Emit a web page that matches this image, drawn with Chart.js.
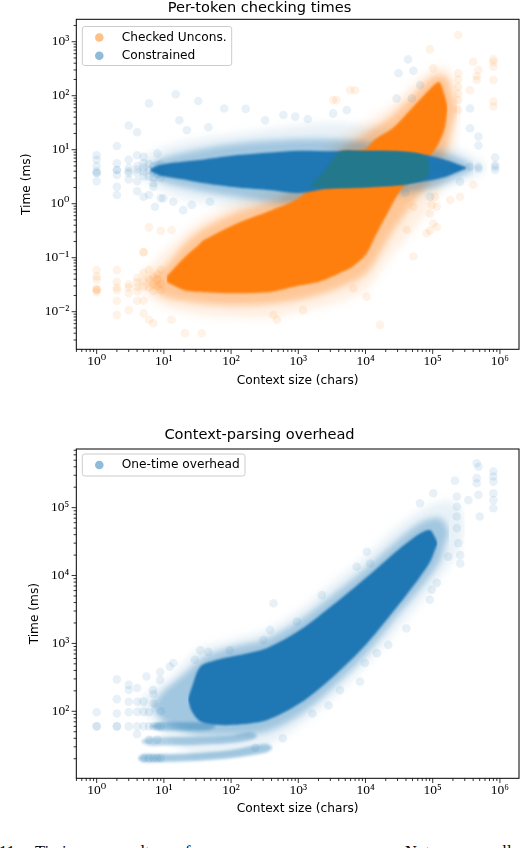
<!DOCTYPE html>
<html>
<head>
<meta charset="utf-8">
<script src="https://cdn.jsdelivr.net/npm/chart.js@4.4.1/dist/chart.umd.min.js"></script>
<style>
  html, body { margin: 0; padding: 0; background: #fff; }
  #page { position: relative; width: 528px; height: 848px; overflow: hidden; }
  #top-wrap { position: absolute; left: 0; top: 0; width: 528px; height: 392px; }
  #bot-wrap { position: absolute; left: 0; top: 420px; width: 528px; height: 400px; }
  #caption { position: absolute; left: 0; top: 842px; width: 528px; height: 20px; font: 16.5px/20px "Liberation Serif", serif; color: #000; opacity: 0.99; }
  #caption span { position: absolute; top: 0; white-space: nowrap; }
</style>
</head>
<body>
<div id="page">
  <div id="top-wrap"><canvas id="top-chart" width="528" height="392"></canvas></div>
  <div id="bot-wrap"><canvas id="bot-chart" width="528" height="400"></canvas></div>
  <div id="caption"><span style="left:-1px">11:</span><span style="left:35px">Timing</span><span style="left:113px">results</span><span style="left:185px">for</span><span style="left:232px">our</span><span style="left:290px">corpus.</span><span style="left:405px">Note:</span><span style="left:495px">all</span></div>
</div>
<script>
// ---- Per-token checking times (top) ----
// envelopes of the dense point clouds (x: chars, y: ms)
const uncX       = [11, 20, 32, 40, 125, 400, 1000, 2000, 3200, 4200, 6300, 10000, 14000, 23000, 32000, 50000, 80000, 105000, 126000, 151000, 166000];
const uncLo      = [0.0355, 0.0251, 0.0234, 0.0229, 0.0219, 0.0234, 0.0302, 0.0355, 0.0447, 0.0525, 0.0676, 0.112, 0.251, 0.794, 1.66, 3.16, 6.31, 9.55, 14.1, 25.1, 56];
const uncHi      = [0.0447, 0.1, 0.166, 0.214, 0.437, 0.759, 1.26, 2.82, 5.0, 9.1, 9.5, 10.5, 15.8, 22.9, 33.1, 60.3, 112, 158, 178, 100, 63];
const uncHazeX   = [5.5, 7, 10, 20, 40, 125, 400, 1000, 3200, 10000, 23000, 50000, 100000, 158000, 200000, 230000];
const uncHazeLo  = [0.036, 0.0282, 0.019, 0.0158, 0.0141, 0.0132, 0.0141, 0.0166, 0.0251, 0.05, 0.251, 1.0, 3.16, 10, 31.6, 56];
const uncHazeHi  = [0.036, 0.0447, 0.063, 0.178, 0.355, 0.708, 1.12, 2.0, 7.9, 20, 39.8, 100, 224, 224, 100, 56];
const uncFaintX  = [4, 5, 10, 32, 125, 400, 1000, 3200, 10000, 23000, 50000, 100000, 158000, 224000, 260000];
const uncFaintLo = [0.034, 0.0224, 0.0126, 0.0089, 0.0079, 0.0079, 0.01, 0.0141, 0.0251, 0.1, 0.316, 1.0, 3.16, 15.8, 50];
const uncFaintHi = [0.034, 0.05, 0.126, 0.447, 1.12, 1.78, 3.16, 12.6, 31.6, 63, 158, 316, 316, 158, 50];

const conX       = [6.3, 9, 20, 40, 125, 400, 1000, 3200, 10000, 32000, 80000, 158000, 251000, 316000];
const conLo      = [3.98, 3.31, 2.82, 2.4, 2.0, 1.78, 1.58, 1.95, 2.04, 2.24, 2.63, 3.16, 3.98, 4.47];
const conHi      = [4.37, 5.25, 6.03, 6.61, 7.94, 8.91, 9.55, 9.33, 9.33, 9.12, 7.94, 6.46, 5.25, 4.68];
const conHazeX   = [6, 8, 20, 125, 1000, 3200, 10000, 32000, 100000, 251000, 400000];
const conHazeLo  = [4.2, 2.82, 2.0, 1.32, 1.0, 1.26, 1.41, 1.58, 2.0, 3.16, 4.17];
const conHazeHi  = [4.2, 6.31, 8.91, 13.2, 15.8, 15.8, 14.1, 12.0, 10, 7.08, 5.01];
const conFaintX  = [4.2, 5.6, 20, 125, 1000, 4000, 16000, 63000, 200000, 500000, 650000];
const conFaintLo = [4.4, 2.51, 1.26, 0.891, 0.794, 1.0, 1.12, 1.41, 2.24, 3.55, 4.7];
const conFaintHi = [4.4, 7.94, 14.1, 20, 28.2, 31.6, 25.1, 20, 11.2, 6.31, 4.7];

// where both clouds are dense the colours mix
const mixX  = [1500, 2500, 4200, 10000, 32000, 63000, 83000, 91000];
const mixLo = [2.04, 1.95, 1.95, 2.04, 2.24, 2.63, 3.16, 4.47];
const mixHi = [2.14, 4.17, 9.12, 9.33, 9.12, 8.32, 6.92, 5.01];

// single faint markers (columns at small sizes + outliers)
const uncDotX = [1, 1, 1, 1, 1, 1, 1, 2, 2, 2, 2, 2, 2, 3, 3, 3, 3, 4, 4, 4, 4, 4, 5, 5, 5, 5, 5, 5, 5, 6, 6, 6, 6, 6, 7, 7, 7, 7, 8, 8, 8, 9, 9, 9, 9,
  13, 13, 20.6, 36.5, 425, 480, 1180, 6600, 10400, 16400, 51500, 81000, 102000, 91000, 51500, 41000, 108000, 97000, 256000, 182000, 115000, 115000, 91000, 400000,
  3300, 5900, 7000, 3700, 240000, 91000, 102000, 400000, 800000, 800000, 478000, 452000, 240000, 240000, 240000, 240000, 240000, 240000, 359000, 800000, 800000, 800000, 452000, 800000];
const uncDotY = [0.059, 0.045, 0.039, 0.026, 0.026, 0.025, 0.023, 0.059, 0.036, 0.025, 0.016, 0.0087, 0.028, 0.032, 0.022, 0.0107, 0.028, 0.042, 0.029, 0.016, 0.035, 0.024,
  0.052, 0.029, 0.0093, 0.016, 0.126, 0.126, 0.037, 0.365, 0.04, 0.028, 0.0071, 0.06, 0.032, 0.045, 0.0061, 0.024, 0.03, 0.04, 0.05, 0.316, 0.033, 0.025, 0.06,
  0.326, 0.0071, 0.004, 0.004, 0.0087, 0.0071, 0.0107, 0.027, 0.019, 0.0057, 0.105, 0.283, 0.43, 0.66, 0.88, 0.33, 1.35, 0.95, 1.35, 1.17, 0.88, 0.37, 0.32, 2.24,
  83, 126, 126, 83, 1330, 720, 320, 425, 470, 345, 300, 195, 260, 147, 83, 54, 200, 110, 126, 195, 78, 63, 230, 420];

const conDotX = [1, 1, 1, 1, 1, 1, 1, 2, 2, 2, 2, 2, 2, 2, 3, 3, 3, 3, 3, 3, 4, 4, 4, 4, 4, 4, 4, 5, 5, 5, 5, 5, 5, 6, 6, 6, 6, 6, 7, 7, 7, 7, 7, 8, 8, 8, 8, 9, 9, 9, 9,
  15, 32.5, 17, 22, 46, 79, 165, 320, 600, 900, 1380, 3300, 5250, 43000, 51500, 31000, 65000, 49000, 29000,
  359000, 480000, 480000, 850000, 850000, 850000, 850000, 255000, 359000, 480000, 480000, 203000, 203000, 144000, 108000, 91000, 39000, 39000, 359000,
  13.8, 19.4, 26, 48.5, 9.8, 7.4];
const conDotY = [7.9, 6.5, 4.0, 3.7, 3.7, 2.6, 5.0, 11.7, 5.6, 4.2, 4.2, 3.4, 2.05, 1.45, 28, 6.5, 4.6, 3.7, 2.8, 4.0, 21, 7.9, 5.0, 3.7, 2.6, 1.7, 4.3,
  5.6, 4.6, 4.0, 3.2, 1.35, 7.4, 72, 5.5, 4.2, 3.2, 1.45, 5.0, 4.0, 3.0, 2.4, 2.07, 5.2, 4.3, 3.5, 8.5, 5.5, 4.0, 3.0, 1.26,
  106, 80, 35, 23, 26, 58, 57, 35, 44, 41, 37, 47, 54, 470, 290, 260, 158, 89, 89,
  25, 17.5, 12, 7.2, 4.2, 5.2, 4.8, 2.55, 4.85, 4.85, 4.4, 4.5, 4.8, 4.5, 4.85, 1.35, 2.4, 1.6, 58,
  1.09, 0.76, 0.95, 1.09, 1.26, 0.88];

// ---- Context-parsing overhead (bottom) ----
const parseX       = [23, 26, 35, 63, 107, 339, 1070, 3300, 10500, 32400, 64600, 91000, 110000, 118000];
const parseLo      = [145, 100, 70.8, 63.1, 63.1, 74.1, 132, 324, 1000, 3890, 9550, 15800, 25100, 30000];
const parseHi      = [155, 224, 457, 575, 646, 851, 1585, 3715, 9550, 25100, 41700, 46800, 35500, 30000];
const parseHazeX   = [6.5, 10, 20, 40, 107, 339, 1070, 3300, 10500, 32400, 70800, 126000, 158000, 175000];
const parseHazeLo  = [115, 70.8, 50.1, 44.7, 44.7, 50.1, 89.1, 224, 708, 2818, 7080, 15800, 31600, 42000];
const parseHazeHi  = [115, 200, 355, 631, 891, 1175, 2239, 5248, 13200, 35500, 63100, 70800, 56200, 42000];
const parseFaintX  = [4, 6.3, 12.6, 32, 100, 339, 1070, 3300, 10500, 32400, 79400, 158000, 251000, 300000];
const parseFaintLo = [125, 79.4, 35.5, 22.4, 25.1, 31.6, 63.1, 158, 501, 1778, 5012, 12590, 25100, 50000];
const parseFaintHi = [125, 200, 316, 794, 1122, 1585, 3162, 7943, 19950, 56200, 100000, 125900, 100000, 50000];
// the three horizontal streaks of markers at small contexts
const streakAX  = [6, 8, 16, 32, 50, 60];
const streakALo = [60, 53, 52, 52, 54, 60];
const streakAHi = [60, 68, 69, 69, 67, 60];
const streakBX  = [4.5, 6, 10, 30, 100, 200, 250];
const streakBLo = [36, 31.5, 31.5, 32, 34, 38, 43];
const streakBHi = [36, 41, 41.5, 42, 44, 49, 43];
const streakCX  = [4, 5, 8, 16, 40, 100, 340, 420];
const streakCLo = [20.4, 17.9, 17.9, 18.2, 19, 20.5, 25, 29];
const streakCHi = [20.4, 23.3, 23.3, 23.6, 24.8, 27, 33, 29];

const parseDotX = [1, 1, 1, 2, 2, 2, 2, 2, 3, 3, 3, 3, 3, 4, 4, 4, 4, 4, 5, 5, 5, 5, 6, 6, 6, 6, 7, 7, 7, 7, 8, 8, 8, 9, 9, 9,
  5.5, 8.8, 12.3, 13.8, 8.8, 6.9, 34.7, 45.7, 95.5, 28.8,
  452000, 480000, 800000, 800000, 800000, 452000, 452000, 214000, 800000, 800000, 800000, 480000, 501000, 339000, 102000, 64600,
  229000, 229000, 229000, 229000, 240000, 257000, 257000, 170000, 115000, 96600, 91000, 40700, 21900, 14800, 9770, 8300, 4170, 2820, 1620, 590, 229,
  427, 2240, 955, 380, 302, 10500, 11700, 7410];
const parseDotY = [97, 60, 60, 295, 151, 93, 60, 60, 245, 206, 138, 97, 60, 220, 138, 98, 60, 46, 98, 60, 20.4, 140, 60, 38, 20.4, 97, 60, 20.4, 130, 180, 60, 38, 20.4, 60, 20.4, 100,
  325, 380, 455, 515, 290, 205, 790, 750, 790, 575,
  450000, 400000, 340000, 287000, 242000, 272000, 229000, 250000, 163000, 129000, 98000, 155000, 74000, 129000, 163000, 116000,
  146000, 103000, 74000, 50000, 30000, 15000, 20000, 19000, 7800, 6200, 4400, 1660, 950, 720, 515, 275, 205, 122, 93, 40, 29,
  3900, 5150, 2100, 1580, 1120, 22400, 15000, 13500];

const ORANGE = '255,127,14', BLUE = '31,119,180', MIX = 'rgb(35,121,139)';

Chart.defaults.font.family = "'DejaVu Sans', sans-serif";
Chart.defaults.color = '#000';

const pts = (xs, ys) => xs.map((x, i) => ({ x, y: ys[i] }));

// two invisible lines with the area between them filled (softened by `blur`)
function band(xs, lo, hi, color, order, blur) {
  const base = { type: 'line', pointRadius: 0, borderWidth: 0, borderColor: 'rgba(0,0,0,0)', tension: 0.3, order };
  return [
    { ...base, data: pts(xs, lo), fill: false },
    { ...base, data: pts(xs, hi), fill: '-1', backgroundColor: color, blur }
  ];
}

function dots(xs, ys, rgb, order, label) {
  return { type: 'scatter', label, legendColor: `rgba(${rgb},0.5)`, data: pts(xs, ys),
           backgroundColor: `rgba(${rgb},0.1)`, borderWidth: 0, pointRadius: 4.3, pointHoverRadius: 4.3, order };
}

const SUP = { '-': '⁻', 0: '⁰', 1: '¹', 2: '²', 3: '³', 4: '⁴', 5: '⁵', 6: '⁶', 7: '⁷', 8: '⁸', 9: '⁹' };
const powLabel = v => '10' + String(Math.round(Math.log10(v))).split('').map(c => SUP[c]).join('');

function decadeTicks(min, max) {
  const out = [];
  for (let e = Math.floor(Math.log10(min)); e <= Math.ceil(Math.log10(max)); e++)
    for (let m = 1; m <= 9; m++) {
      const v = m * Math.pow(10, e);
      if (v >= min && v <= max) out.push({ value: v, major: m === 1 });
    }
  return out;
}

function logAxis(min, max, text, isY, size, titlePad) {
  return {
    type: 'logarithmic', min, max,
    grid: { display: false, drawTicks: false }, border: { display: false },
    ticks: { autoSkip: false, maxRotation: 0, padding: isY ? 7 : 4, color: '#000',
             font: { family: "'Liberation Serif', 'DejaVu Serif', serif", size: 13.5 },
             callback: (v, i, ts) => ts[i].major ? powLabel(v) : '' },
    afterBuildTicks: s => { s.ticks = decadeTicks(min, max); },
    afterFit: s => { if (isY) s.width = size; else s.height = size; },
    title: { display: true, text, color: '#000', font: { size: 12.2 }, padding: titlePad }
  };
}

// the filler paints a band right before its dataset; blur only that paint
function nextFilter(chart, index) {
  const metas = chart.getSortedVisibleDatasetMetas();
  const pos = index === null ? metas.length : metas.findIndex(m => m.index === index);
  const next = metas[pos - 1];
  const b = next && chart.data.datasets[next.index].blur;
  chart.ctx.filter = b ? `blur(${b}px)` : 'none';
}
const softFill = {
  id: 'softFill',
  beforeDatasetsDraw(chart) { nextFilter(chart, null); },
  beforeDatasetDraw(chart) { chart.ctx.filter = 'none'; },
  afterDatasetDraw(chart, args) { nextFilter(chart, args.index); },
  afterDatasetsDraw(chart) { chart.ctx.filter = 'none'; }
};

// axes box + matplotlib style outward ticks
const frame = {
  id: 'frame',
  afterDatasetsDraw(chart) {
    const { ctx, chartArea: a, scales: { x, y } } = chart;
    ctx.save();
    ctx.strokeStyle = '#000';
    ctx.lineWidth = 1;
    ctx.strokeRect(a.left, a.top, a.right - a.left, a.bottom - a.top);
    ctx.lineWidth = 0.8;
    ctx.beginPath();
    x.ticks.forEach(t => {
      const p = x.getPixelForValue(t.value);
      ctx.moveTo(p, a.bottom); ctx.lineTo(p, a.bottom + (t.major ? 4.7 : 2.7));
    });
    y.ticks.forEach(t => {
      const p = y.getPixelForValue(t.value);
      ctx.moveTo(a.left, p); ctx.lineTo(a.left - (t.major ? 4.7 : 2.7), p);
    });
    ctx.stroke();
    ctx.restore();
  }
};

const boxLegend = {
  id: 'boxLegend',
  afterDatasetsDraw(chart, args, o) {
    const items = chart.data.datasets.filter(d => d.label);
    const { ctx, chartArea: a } = chart;
    const x = a.left + o.dx, y = a.top + o.dy;
    ctx.save();
    ctx.beginPath();
    ctx.roundRect(x, y, o.w, o.h, 2.5);
    ctx.fillStyle = 'rgba(255,255,255,0.8)';
    ctx.fill();
    ctx.strokeStyle = '#cccccc';
    ctx.lineWidth = 1;
    ctx.stroke();
    ctx.font = "12.2px 'DejaVu Sans'";
    ctx.textBaseline = 'middle';
    items.forEach((d, i) => {
      const cy = y + 11 + i * 18.3;
      ctx.beginPath();
      ctx.arc(x + 17, cy, 4.3, 0, Math.PI * 2);
      ctx.fillStyle = d.legendColor;
      ctx.fill();
      ctx.fillStyle = '#000';
      ctx.fillText(d.label, x + 39.4, cy);
    });
    ctx.restore();
  }
};

function scatterChart(id, title, titlePad, datasets, yMin, yMax, yTitlePad, xHeight, xTitlePad, legend) {
  return new Chart(document.getElementById(id), {
    type: 'scatter',
    data: { datasets },
    options: {
      responsive: false, animation: false, events: [],
      layout: { padding: { left: 0, right: 9, top: 0, bottom: 0 } },
      plugins: {
        legend: { display: false }, tooltip: { enabled: false },
        title: { display: true, text: title, color: '#000', font: { size: 14.6, weight: 'normal', lineHeight: 1 }, padding: titlePad },
        boxLegend: legend
      },
      scales: {
        x: logAxis(0.498, 1923000, 'Context size (chars)', false, xHeight, xTitlePad),
        y: logAxis(yMin, yMax, 'Time (ms)', true, 76.3, yTitlePad)
      }
    },
    plugins: [softFill, frame, boxLegend]
  });
}

scatterChart('top-chart', 'Per-token checking times', { top: 0.7, bottom: 4 }, [
  dots(uncDotX, uncDotY, ORANGE, 68, 'Checked Uncons.'),
  dots(conDotX, conDotY, BLUE, 55, 'Constrained'),
  ...band(uncFaintX, uncFaintLo, uncFaintHi, `rgba(${ORANGE},0.12)`, 100, 4),
  ...band(conFaintX, conFaintLo, conFaintHi, `rgba(${BLUE},0.1)`, 95, 4),
  ...band(uncHazeX, uncHazeLo, uncHazeHi, `rgba(${ORANGE},0.35)`, 80, 3),
  ...band(conHazeX, conHazeLo, conHazeHi, `rgba(${BLUE},0.35)`, 75, 3),
  ...band(uncX, uncLo, uncHi, `rgb(${ORANGE})`, 70, 1.3),
  ...band(conX, conLo, conHi, `rgb(${BLUE})`, 60, 1.3),
  ...band(mixX, mixLo, mixHi, MIX, 50, 1)
], 0.002014, 2600, { top: 19.9, bottom: 0 }, 42.7, { top: 0, bottom: 4.2 }, { dx: 6, dy: 7.2, w: 149.4, h: 39 });

scatterChart('bot-chart', 'Context-parsing overhead', { top: 8.4, bottom: 6 }, [
  dots(parseDotX, parseDotY, BLUE, 55, 'One-time overhead'),
  ...band(parseFaintX, parseFaintLo, parseFaintHi, `rgba(${BLUE},0.1)`, 100, 4),
  ...band(parseHazeX, parseHazeLo, parseHazeHi, `rgba(${BLUE},0.35)`, 80, 3),
  ...band(streakAX, streakALo, streakAHi, `rgba(${BLUE},0.4)`, 75, 1.5),
  ...band(streakBX, streakBLo, streakBHi, `rgba(${BLUE},0.35)`, 75, 1.5),
  ...band(streakCX, streakCLo, streakCHi, `rgba(${BLUE},0.4)`, 75, 1.5),
  ...band(parseX, parseLo, parseHi, `rgb(${BLUE})`, 60, 1.3)
], 10.3, 731000, { top: 27.4, bottom: 0 }, 41.7, { top: 0, bottom: 3.7 }, { dx: 6, dy: 5, w: 162.7, h: 22 });
</script>
</body>
</html>
